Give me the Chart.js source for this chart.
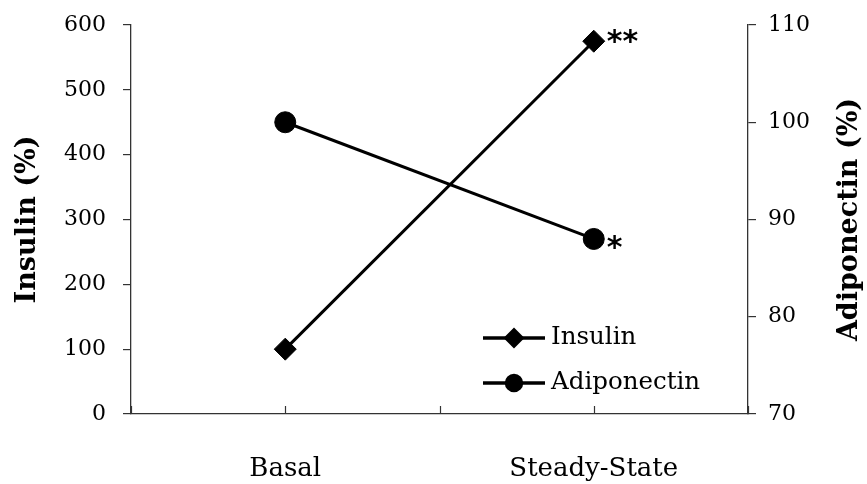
<!DOCTYPE html>
<html>
<head>
<meta charset="utf-8">
<script src="https://cdn.jsdelivr.net/npm/chart.js@4/dist/chart.umd.min.js"></script>
<style>
html,body{margin:0;padding:0;background:#fff;}
#wrap{width:867px;height:484px;position:relative;}
</style>
</head>
<body>
<div id="wrap"><canvas id="c" width="867" height="484"></canvas></div>
<script>
const categories = ['Basal', 'Steady-State'];
const insulin = [100, 575];
const adiponectin = [100, 88];
const insulinMarks = ['', '**'];
const adiponectinMarks = ['', '*'];
const insulinTicks = [0, 100, 200, 300, 400, 500, 600];
const adiponectinTicks = [70, 80, 90, 100, 110];
const leftTitle = 'Insulin (%)';
const rightTitle = 'Adiponectin (%)';

const SERIF = "'DejaVu Serif', serif";

const toPoints = arr => arr.map((v, i) => ({ x: i + 1, y: v }));

const annotate = {
  id: 'annotate',
  afterDatasetsDraw(chart) {
    const ctx = chart.ctx;
    ctx.save();
    ctx.fillStyle = '#000';
    ctx.font = "bold 30px 'DejaVu Sans', sans-serif";
    ctx.textAlign = 'left';
    ctx.textBaseline = 'middle';
    [[0, insulinMarks, 2], [1, adiponectinMarks, 10]].forEach(([di, marks, dy]) => {
      const meta = chart.getDatasetMeta(di);
      meta.data.forEach((pt, i) => {
        if (marks[i]) ctx.fillText(marks[i], pt.x + 13, pt.y + dy);
      });
    });
    ctx.restore();
  },
  afterDraw(chart) {
    const ctx = chart.ctx;
    const xs = chart.scales.x;
    const area = chart.chartArea;
    ctx.save();
    // inward x ticks
    ctx.strokeStyle = '#333';
    ctx.lineWidth = 1.2;
    xs.ticks.forEach((t) => {
      const px = Math.round(xs.getPixelForValue(t.value)) + 0.5;
      ctx.beginPath();
      ctx.moveTo(px, area.bottom);
      ctx.lineTo(px, area.bottom - 8);
      ctx.stroke();
    });
    // axis titles (both read bottom-to-top)
    const midY = (area.top + area.bottom) / 2;
    ctx.fillStyle = '#000';
    ctx.font = 'bold 27px ' + SERIF;
    ctx.textAlign = 'center';
    ctx.textBaseline = 'middle';
    [[28, leftTitle], [850, rightTitle]].forEach(([x, txt]) => {
      ctx.save();
      ctx.translate(x, midY);
      ctx.rotate(-Math.PI / 2);
      ctx.fillText(txt, 0, 0);
      ctx.restore();
    });
    // legend
    const items = [
      { ds: chart.data.datasets[0], style: 'rectRot', r: 8 },
      { ds: chart.data.datasets[1], style: 'circle', r: 7.5 }
    ];
    const x0 = area.right - 265, x1 = area.right - 203;
    items.forEach((it, k) => {
      const y = area.bottom - 76 + k * 45;
      ctx.strokeStyle = '#000';
      ctx.lineWidth = 3.5;
      ctx.beginPath();
      ctx.moveTo(x0, y);
      ctx.lineTo(x1, y);
      ctx.stroke();
      ctx.fillStyle = '#000';
      Chart.helpers.drawPoint(ctx, { pointStyle: it.style, radius: it.r, borderWidth: 1 }, (x0 + x1) / 2, y);
      ctx.fillStyle = '#000';
      ctx.font = '24.5px ' + SERIF;
      ctx.textAlign = 'left';
      ctx.textBaseline = 'middle';
      ctx.fillText(it.ds.label, x1 + 6, y);
    });
    ctx.restore();
  }
};

new Chart(document.getElementById('c'), {
  type: 'line',
  data: {
    datasets: [
      {
        label: 'Insulin',
        data: toPoints(insulin),
        yAxisID: 'y',
        borderColor: '#000',
        backgroundColor: '#000',
        borderWidth: 3,
        pointStyle: 'rectRot',
        pointRadius: 11,
        pointBorderWidth: 1,
        pointBackgroundColor: '#000',
        pointBorderColor: '#000'
      },
      {
        label: 'Adiponectin',
        data: toPoints(adiponectin),
        yAxisID: 'y2',
        borderColor: '#000',
        backgroundColor: '#000',
        borderWidth: 3,
        pointStyle: 'circle',
        pointRadius: 10.5,
        pointBorderWidth: 1,
        pointBackgroundColor: '#000',
        pointBorderColor: '#000'
      }
    ]
  },
  options: {
    responsive: false,
    animation: false,
    events: [],
    layout: { padding: { top: 25, left: 0, right: 0, bottom: 0 } },
    plugins: { legend: { display: false }, tooltip: { enabled: false } },
    scales: {
      x: {
        type: 'linear',
        min: 0.5,
        max: categories.length + 0.5,
        afterBuildTicks(scale) {
          const t = [];
          for (let v = 0.5; v <= categories.length + 0.5 + 1e-9; v += 0.5) t.push({ value: v });
          scale.ticks = t;
        },
        afterFit(scale) { scale.height = 70; scale.paddingLeft = 0; scale.paddingRight = 0; },
        grid: { display: false },
        border: { display: true, color: '#333', width: 1.3 },
        ticks: {
          autoSkip: false,
          maxRotation: 0,
          padding: 32,
          color: '#000',
          font: { family: SERIF, size: 26 },
          callback: v => Number.isInteger(v) ? categories[v - 1] : ''
        }
      },
      y: {
        position: 'left',
        min: 0,
        max: 600,
        afterBuildTicks(scale) { scale.ticks = insulinTicks.map(v => ({ value: v })); },
        afterFit(scale) { scale.width = 131; scale.paddingTop = 0; scale.paddingBottom = 0; },
        grid: { drawOnChartArea: false, tickLength: 8, color: '#333', lineWidth: 1.2 },
        border: { color: '#333', width: 1.3 },
        ticks: { padding: 17, color: '#000', font: { family: SERIF, size: 22 } },
        title: { display: false }
      },
      y2: {
        position: 'right',
        min: 70,
        max: 110,
        afterBuildTicks(scale) { scale.ticks = adiponectinTicks.map(v => ({ value: v })); },
        afterFit(scale) { scale.width = 119; scale.paddingTop = 0; scale.paddingBottom = 0; },
        grid: { drawOnChartArea: false, tickLength: 8, color: '#333', lineWidth: 1.2 },
        border: { color: '#333', width: 1.3 },
        ticks: { padding: 12, color: '#000', font: { family: SERIF, size: 22 } },
        title: { display: false }
      }
    }
  },
  plugins: [annotate]
});
</script>
</body>
</html>
